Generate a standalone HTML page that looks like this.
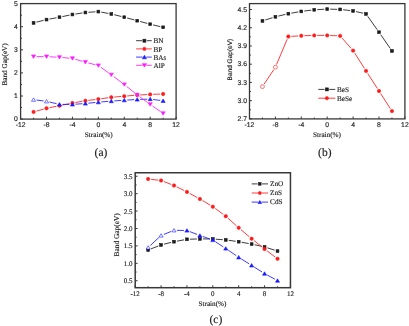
<!DOCTYPE html>
<html><head><meta charset="utf-8"><style>
html,body{margin:0;padding:0;background:#fff;}
svg{display:block;text-rendering:geometricPrecision;filter:blur(0.3px);}
text{stroke:#222;stroke-width:0.15px;stroke-linejoin:round;}
</style></head><body>
<svg width="409" height="326" viewBox="0 0 409 326">
<rect width="409" height="326" fill="#fff"/>
<rect x="20.6" y="3.6" width="155.5" height="115.5" fill="none" stroke="#383838" stroke-width="1.3"/>
<line x1="20.6" y1="119.1" x2="20.6" y2="116.7" stroke="#383838" stroke-width="1.0"/>
<line x1="46.52" y1="119.1" x2="46.52" y2="116.7" stroke="#383838" stroke-width="1.0"/>
<line x1="72.43" y1="119.1" x2="72.43" y2="116.7" stroke="#383838" stroke-width="1.0"/>
<line x1="98.35" y1="119.1" x2="98.35" y2="116.7" stroke="#383838" stroke-width="1.0"/>
<line x1="124.27" y1="119.1" x2="124.27" y2="116.7" stroke="#383838" stroke-width="1.0"/>
<line x1="150.18" y1="119.1" x2="150.18" y2="116.7" stroke="#383838" stroke-width="1.0"/>
<line x1="176.1" y1="119.1" x2="176.1" y2="116.7" stroke="#383838" stroke-width="1.0"/>
<line x1="33.56" y1="119.1" x2="33.56" y2="117.7" stroke="#383838" stroke-width="1.0"/>
<line x1="59.48" y1="119.1" x2="59.48" y2="117.7" stroke="#383838" stroke-width="1.0"/>
<line x1="85.39" y1="119.1" x2="85.39" y2="117.7" stroke="#383838" stroke-width="1.0"/>
<line x1="111.31" y1="119.1" x2="111.31" y2="117.7" stroke="#383838" stroke-width="1.0"/>
<line x1="137.22" y1="119.1" x2="137.22" y2="117.7" stroke="#383838" stroke-width="1.0"/>
<line x1="163.14" y1="119.1" x2="163.14" y2="117.7" stroke="#383838" stroke-width="1.0"/>
<line x1="20.6" y1="119.1" x2="23" y2="119.1" stroke="#383838" stroke-width="1.0"/>
<line x1="20.6" y1="96" x2="23" y2="96" stroke="#383838" stroke-width="1.0"/>
<line x1="20.6" y1="72.9" x2="23" y2="72.9" stroke="#383838" stroke-width="1.0"/>
<line x1="20.6" y1="49.8" x2="23" y2="49.8" stroke="#383838" stroke-width="1.0"/>
<line x1="20.6" y1="26.7" x2="23" y2="26.7" stroke="#383838" stroke-width="1.0"/>
<line x1="20.6" y1="3.6" x2="23" y2="3.6" stroke="#383838" stroke-width="1.0"/>
<line x1="20.6" y1="107.55" x2="22" y2="107.55" stroke="#383838" stroke-width="1.0"/>
<line x1="20.6" y1="84.45" x2="22" y2="84.45" stroke="#383838" stroke-width="1.0"/>
<line x1="20.6" y1="61.35" x2="22" y2="61.35" stroke="#383838" stroke-width="1.0"/>
<line x1="20.6" y1="38.25" x2="22" y2="38.25" stroke="#383838" stroke-width="1.0"/>
<line x1="20.6" y1="15.15" x2="22" y2="15.15" stroke="#383838" stroke-width="1.0"/>
<path d="M36.47 22.16L43.61 20.34M49.47 19.05L56.53 17.75M62.41 16.59L69.5 15.11M75.4 14.04L82.43 12.96M88.38 12.29L95.36 11.81M101.3 12.15L108.36 13.45M114.22 14.72L121.35 16.48M127.16 17.98L134.33 19.92M140.12 21.48L147.29 23.42M153.1 24.9L160.22 26.6" fill="none" stroke="#1a1a1a" stroke-width="0.85"/>
<path d="M36.45 111.1L43.63 109.1M49.46 107.71L56.53 106.29M62.41 105.09L69.5 103.61M75.39 102.5L82.43 101.3M88.37 100.41L95.38 99.49M101.32 98.69L108.34 97.71M114.3 97.05L121.28 96.45M127.26 95.95L134.24 95.35M140.22 94.94L147.19 94.56M153.18 94.31L160.14 94.09" fill="none" stroke="#ff1a1a" stroke-width="0.85"/>
<path d="M36.54 100.07L43.54 100.93M49.43 102L56.56 103.7M62.48 104.4L69.43 104.4M75.43 104.19L82.4 103.71M88.38 103.2L95.36 102.5M101.34 101.95L108.32 101.35M114.3 100.89L121.27 100.41M127.26 100.04L134.23 99.66M140.22 99.41L147.18 99.19M153.16 99.49L160.17 100.41" fill="none" stroke="#1a1aff" stroke-width="0.85"/>
<path d="M36.56 56.6L43.52 56.6M49.51 56.76L56.48 57.14M62.46 57.55L69.44 58.15M75.31 59.24L82.51 61.36M88.3 62.94L95.44 64.76M100.79 67.25L108.87 73.05M113.71 76.6L121.86 82.7M126.61 86.38L134.89 93.02M139.64 96.67L147.76 102.63M152.65 106.11L160.68 111.69" fill="none" stroke="#ff1aff" stroke-width="0.85"/>
<rect x="32.16" y="21.5" width="2.8" height="2.8" fill="#1a1a1a" stroke="#1a1a1a" stroke-width="0.6"/>
<rect x="45.12" y="18.2" width="2.8" height="2.8" fill="#1a1a1a" stroke="#1a1a1a" stroke-width="0.6"/>
<rect x="58.08" y="15.8" width="2.8" height="2.8" fill="#1a1a1a" stroke="#1a1a1a" stroke-width="0.6"/>
<rect x="71.03" y="13.1" width="2.8" height="2.8" fill="#1a1a1a" stroke="#1a1a1a" stroke-width="0.6"/>
<rect x="83.99" y="11.1" width="2.8" height="2.8" fill="#1a1a1a" stroke="#1a1a1a" stroke-width="0.6"/>
<rect x="96.95" y="10.2" width="2.8" height="2.8" fill="#1a1a1a" stroke="#1a1a1a" stroke-width="0.6"/>
<rect x="109.91" y="12.6" width="2.8" height="2.8" fill="#1a1a1a" stroke="#1a1a1a" stroke-width="0.6"/>
<rect x="122.87" y="15.8" width="2.8" height="2.8" fill="#1a1a1a" stroke="#1a1a1a" stroke-width="0.6"/>
<rect x="135.82" y="19.3" width="2.8" height="2.8" fill="#1a1a1a" stroke="#1a1a1a" stroke-width="0.6"/>
<rect x="148.78" y="22.8" width="2.8" height="2.8" fill="#1a1a1a" stroke="#1a1a1a" stroke-width="0.6"/>
<rect x="161.74" y="25.9" width="2.8" height="2.8" fill="#1a1a1a" stroke="#1a1a1a" stroke-width="0.6"/>
<circle cx="33.56" cy="111.9" r="1.7" fill="#ff1a1a" stroke="#ff1a1a" stroke-width="0.6"/>
<circle cx="46.52" cy="108.3" r="1.7" fill="#ff1a1a" stroke="#ff1a1a" stroke-width="0.6"/>
<circle cx="59.48" cy="105.7" r="1.7" fill="#ff1a1a" stroke="#ff1a1a" stroke-width="0.6"/>
<circle cx="72.43" cy="103" r="1.7" fill="#ff1a1a" stroke="#ff1a1a" stroke-width="0.6"/>
<circle cx="85.39" cy="100.8" r="1.7" fill="#ff1a1a" stroke="#ff1a1a" stroke-width="0.6"/>
<circle cx="98.35" cy="99.1" r="1.7" fill="#ff1a1a" stroke="#ff1a1a" stroke-width="0.6"/>
<circle cx="111.31" cy="97.3" r="1.7" fill="#ff1a1a" stroke="#ff1a1a" stroke-width="0.6"/>
<circle cx="124.27" cy="96.2" r="1.7" fill="#ff1a1a" stroke="#ff1a1a" stroke-width="0.6"/>
<circle cx="137.22" cy="95.1" r="1.7" fill="#ff1a1a" stroke="#ff1a1a" stroke-width="0.6"/>
<circle cx="150.18" cy="94.4" r="1.7" fill="#ff1a1a" stroke="#ff1a1a" stroke-width="0.6"/>
<circle cx="163.14" cy="94" r="1.7" fill="#ff1a1a" stroke="#ff1a1a" stroke-width="0.6"/>
<polygon points="33.56,97.92 31.52,101.31 35.6,101.31" fill="#fff" stroke="#1a1aff" stroke-width="0.6"/>
<polygon points="46.52,99.52 44.48,102.91 48.56,102.91" fill="#fff" stroke="#1a1aff" stroke-width="0.6"/>
<polygon points="59.48,102.62 57.44,106.02 61.52,106.02" fill="#1a1aff" stroke="#1a1aff" stroke-width="0.6"/>
<polygon points="72.43,102.62 70.39,106.02 74.47,106.02" fill="#1a1aff" stroke="#1a1aff" stroke-width="0.6"/>
<polygon points="85.39,101.72 83.35,105.11 87.43,105.11" fill="#1a1aff" stroke="#1a1aff" stroke-width="0.6"/>
<polygon points="98.35,100.42 96.31,103.81 100.39,103.81" fill="#1a1aff" stroke="#1a1aff" stroke-width="0.6"/>
<polygon points="111.31,99.31 109.27,102.71 113.35,102.71" fill="#1a1aff" stroke="#1a1aff" stroke-width="0.6"/>
<polygon points="124.27,98.42 122.23,101.81 126.31,101.81" fill="#1a1aff" stroke="#1a1aff" stroke-width="0.6"/>
<polygon points="137.22,97.72 135.19,101.11 139.26,101.11" fill="#1a1aff" stroke="#1a1aff" stroke-width="0.6"/>
<polygon points="150.18,97.31 148.14,100.71 152.22,100.71" fill="#1a1aff" stroke="#1a1aff" stroke-width="0.6"/>
<polygon points="163.14,99.02 161.1,102.41 165.18,102.41" fill="#1a1aff" stroke="#1a1aff" stroke-width="0.6"/>
<polygon points="33.56,58.38 31.52,54.98 35.6,54.98" fill="#ff1aff" stroke="#ff1aff" stroke-width="0.6"/>
<polygon points="46.52,58.38 44.48,54.98 48.56,54.98" fill="#ff1aff" stroke="#ff1aff" stroke-width="0.6"/>
<polygon points="59.48,59.08 57.44,55.68 61.52,55.68" fill="#ff1aff" stroke="#ff1aff" stroke-width="0.6"/>
<polygon points="72.43,60.18 70.39,56.78 74.47,56.78" fill="#ff1aff" stroke="#ff1aff" stroke-width="0.6"/>
<polygon points="85.39,63.98 83.35,60.59 87.43,60.59" fill="#ff1aff" stroke="#ff1aff" stroke-width="0.6"/>
<polygon points="98.35,67.28 96.31,63.88 100.39,63.88" fill="#ff1aff" stroke="#ff1aff" stroke-width="0.6"/>
<polygon points="111.31,76.58 109.27,73.19 113.35,73.19" fill="#ff1aff" stroke="#ff1aff" stroke-width="0.6"/>
<polygon points="124.27,86.28 122.23,82.89 126.31,82.89" fill="#ff1aff" stroke="#ff1aff" stroke-width="0.6"/>
<polygon points="137.22,96.69 135.19,93.29 139.26,93.29" fill="#ff1aff" stroke="#ff1aff" stroke-width="0.6"/>
<polygon points="150.18,106.19 148.14,102.79 152.22,102.79" fill="#ff1aff" stroke="#ff1aff" stroke-width="0.6"/>
<polygon points="163.14,115.19 161.1,111.79 165.18,111.79" fill="#ff1aff" stroke="#ff1aff" stroke-width="0.6"/>
<path d="M136.1 40.7H142M146.8 40.7H151.8" fill="none" stroke="#1a1a1a" stroke-width="0.85"/>
<rect x="142.9" y="39.2" width="3" height="3" fill="#1a1a1a" stroke="#1a1a1a" stroke-width="0.6"/>
<text x="153.5" y="43.4" font-size="7.2" font-family='"Liberation Serif", serif' text-anchor="start" fill="#222" font-weight="normal">BN</text>
<path d="M136.1 48.9H142.55M146.25 48.9H151.8" fill="none" stroke="#ff1a1a" stroke-width="0.85"/>
<circle cx="144.4" cy="48.9" r="1.65" fill="#ff1a1a" stroke="#ff1a1a" stroke-width="0.6"/>
<text x="153.5" y="51.6" font-size="7.2" font-family='"Liberation Serif", serif' text-anchor="start" fill="#222" font-weight="normal">BP</text>
<path d="M136.1 57.1H142.45M146.35 57.1H151.8" fill="none" stroke="#1a1aff" stroke-width="0.85"/>
<polygon points="144.4,55.26 142.3,58.76 146.5,58.76" fill="#1a1aff" stroke="#1a1aff" stroke-width="0.6"/>
<text x="153.5" y="59.8" font-size="7.2" font-family='"Liberation Serif", serif' text-anchor="start" fill="#222" font-weight="normal">BAs</text>
<path d="M136.1 65.3H142.45M146.35 65.3H151.8" fill="none" stroke="#ff1aff" stroke-width="0.85"/>
<polygon points="144.4,67.14 142.3,63.64 146.5,63.64" fill="#ff1aff" stroke="#ff1aff" stroke-width="0.6"/>
<text x="153.5" y="68" font-size="7.2" font-family='"Liberation Serif", serif' text-anchor="start" fill="#222" font-weight="normal">AlP</text>
<text x="17.9" y="121" font-size="6.8" font-family='"Liberation Sans", sans-serif' text-anchor="end" fill="#222" font-weight="normal">0</text>
<text x="17.9" y="97.9" font-size="6.8" font-family='"Liberation Sans", sans-serif' text-anchor="end" fill="#222" font-weight="normal">1</text>
<text x="17.9" y="74.8" font-size="6.8" font-family='"Liberation Sans", sans-serif' text-anchor="end" fill="#222" font-weight="normal">2</text>
<text x="17.9" y="51.7" font-size="6.8" font-family='"Liberation Sans", sans-serif' text-anchor="end" fill="#222" font-weight="normal">3</text>
<text x="17.9" y="28.6" font-size="6.8" font-family='"Liberation Sans", sans-serif' text-anchor="end" fill="#222" font-weight="normal">4</text>
<text x="17.9" y="5.5" font-size="6.8" font-family='"Liberation Sans", sans-serif' text-anchor="end" fill="#222" font-weight="normal">5</text>
<text x="20.6" y="127" font-size="6.8" font-family='"Liberation Sans", sans-serif' text-anchor="middle" fill="#222" font-weight="normal">-12</text>
<text x="46.52" y="127" font-size="6.8" font-family='"Liberation Sans", sans-serif' text-anchor="middle" fill="#222" font-weight="normal">-8</text>
<text x="72.43" y="127" font-size="6.8" font-family='"Liberation Sans", sans-serif' text-anchor="middle" fill="#222" font-weight="normal">-4</text>
<text x="98.35" y="127" font-size="6.8" font-family='"Liberation Sans", sans-serif' text-anchor="middle" fill="#222" font-weight="normal">0</text>
<text x="124.27" y="127" font-size="6.8" font-family='"Liberation Sans", sans-serif' text-anchor="middle" fill="#222" font-weight="normal">4</text>
<text x="150.18" y="127" font-size="6.8" font-family='"Liberation Sans", sans-serif' text-anchor="middle" fill="#222" font-weight="normal">8</text>
<text x="176.1" y="127" font-size="6.8" font-family='"Liberation Sans", sans-serif' text-anchor="middle" fill="#222" font-weight="normal">12</text>
<text x="98.8" y="137" font-size="7.2" font-family='"Liberation Serif", serif' text-anchor="middle" fill="#222" font-weight="normal">Strain(%)</text>
<text x="6.9" y="64.4" font-size="7.2" font-family='"Liberation Serif", serif' text-anchor="middle" fill="#222" font-weight="normal" transform="rotate(-90 6.9 64.4)">Band Gap(eV)</text>
<text x="101" y="155.6" font-size="11.5" font-family='"Liberation Serif", serif' text-anchor="middle" fill="#222" font-weight="normal">(a)</text>
<rect x="249.5" y="3.6" width="155.4" height="115.3" fill="none" stroke="#383838" stroke-width="1.3"/>
<line x1="249.5" y1="118.9" x2="249.5" y2="116.5" stroke="#383838" stroke-width="1.0"/>
<line x1="275.4" y1="118.9" x2="275.4" y2="116.5" stroke="#383838" stroke-width="1.0"/>
<line x1="301.3" y1="118.9" x2="301.3" y2="116.5" stroke="#383838" stroke-width="1.0"/>
<line x1="327.2" y1="118.9" x2="327.2" y2="116.5" stroke="#383838" stroke-width="1.0"/>
<line x1="353.1" y1="118.9" x2="353.1" y2="116.5" stroke="#383838" stroke-width="1.0"/>
<line x1="379" y1="118.9" x2="379" y2="116.5" stroke="#383838" stroke-width="1.0"/>
<line x1="404.9" y1="118.9" x2="404.9" y2="116.5" stroke="#383838" stroke-width="1.0"/>
<line x1="262.45" y1="118.9" x2="262.45" y2="117.5" stroke="#383838" stroke-width="1.0"/>
<line x1="288.35" y1="118.9" x2="288.35" y2="117.5" stroke="#383838" stroke-width="1.0"/>
<line x1="314.25" y1="118.9" x2="314.25" y2="117.5" stroke="#383838" stroke-width="1.0"/>
<line x1="340.15" y1="118.9" x2="340.15" y2="117.5" stroke="#383838" stroke-width="1.0"/>
<line x1="366.05" y1="118.9" x2="366.05" y2="117.5" stroke="#383838" stroke-width="1.0"/>
<line x1="391.95" y1="118.9" x2="391.95" y2="117.5" stroke="#383838" stroke-width="1.0"/>
<line x1="249.5" y1="118.9" x2="251.9" y2="118.9" stroke="#383838" stroke-width="1.0"/>
<line x1="249.5" y1="100.67" x2="251.9" y2="100.67" stroke="#383838" stroke-width="1.0"/>
<line x1="249.5" y1="82.43" x2="251.9" y2="82.43" stroke="#383838" stroke-width="1.0"/>
<line x1="249.5" y1="64.2" x2="251.9" y2="64.2" stroke="#383838" stroke-width="1.0"/>
<line x1="249.5" y1="45.96" x2="251.9" y2="45.96" stroke="#383838" stroke-width="1.0"/>
<line x1="249.5" y1="27.73" x2="251.9" y2="27.73" stroke="#383838" stroke-width="1.0"/>
<line x1="249.5" y1="9.5" x2="251.9" y2="9.5" stroke="#383838" stroke-width="1.0"/>
<line x1="249.5" y1="109.78" x2="250.9" y2="109.78" stroke="#383838" stroke-width="1.0"/>
<line x1="249.5" y1="91.55" x2="250.9" y2="91.55" stroke="#383838" stroke-width="1.0"/>
<line x1="249.5" y1="73.31" x2="250.9" y2="73.31" stroke="#383838" stroke-width="1.0"/>
<line x1="249.5" y1="55.08" x2="250.9" y2="55.08" stroke="#383838" stroke-width="1.0"/>
<line x1="249.5" y1="36.85" x2="250.9" y2="36.85" stroke="#383838" stroke-width="1.0"/>
<line x1="249.5" y1="18.61" x2="250.9" y2="18.61" stroke="#383838" stroke-width="1.0"/>
<path d="M265.31 19.99L272.54 17.71M278.32 16.1L285.43 14.4M291.3 13.18L298.35 11.92M304.28 11.03L311.27 10.17M317.25 9.64L324.2 9.26M330.2 9.17L337.15 9.33M343.13 9.75L350.12 10.55M356.02 11.58L363.13 13.22M367.78 16.35L377.27 29.75M380.71 34.67L390.24 48.43" fill="none" stroke="#1a1a1a" stroke-width="0.85"/>
<path d="M264.12 84.1L273.73 69.7M276.57 64.44L287.18 39.26M291.35 36.34L298.3 35.96M304.3 35.71L311.25 35.49M317.25 35.4L324.2 35.4M330.2 35.52L337.15 35.78M342.13 38.15L351.12 48.35M354.71 53.13L364.44 68.37M367.67 73.42L377.38 88.48M380.62 93.52L390.33 108.58" fill="none" stroke="#ff1a1a" stroke-width="0.85"/>
<rect x="261.05" y="19.5" width="2.8" height="2.8" fill="#1a1a1a" stroke="#1a1a1a" stroke-width="0.6"/>
<rect x="274" y="15.4" width="2.8" height="2.8" fill="#1a1a1a" stroke="#1a1a1a" stroke-width="0.6"/>
<rect x="286.95" y="12.3" width="2.8" height="2.8" fill="#1a1a1a" stroke="#1a1a1a" stroke-width="0.6"/>
<rect x="299.9" y="10" width="2.8" height="2.8" fill="#1a1a1a" stroke="#1a1a1a" stroke-width="0.6"/>
<rect x="312.85" y="8.4" width="2.8" height="2.8" fill="#1a1a1a" stroke="#1a1a1a" stroke-width="0.6"/>
<rect x="325.8" y="7.7" width="2.8" height="2.8" fill="#1a1a1a" stroke="#1a1a1a" stroke-width="0.6"/>
<rect x="338.75" y="8" width="2.8" height="2.8" fill="#1a1a1a" stroke="#1a1a1a" stroke-width="0.6"/>
<rect x="351.7" y="9.5" width="2.8" height="2.8" fill="#1a1a1a" stroke="#1a1a1a" stroke-width="0.6"/>
<rect x="364.65" y="12.5" width="2.8" height="2.8" fill="#1a1a1a" stroke="#1a1a1a" stroke-width="0.6"/>
<rect x="377.6" y="30.8" width="2.8" height="2.8" fill="#1a1a1a" stroke="#1a1a1a" stroke-width="0.6"/>
<rect x="390.55" y="49.5" width="2.8" height="2.8" fill="#1a1a1a" stroke="#1a1a1a" stroke-width="0.6"/>
<circle cx="262.45" cy="86.6" r="1.95" fill="#fff" stroke="#ff1a1a" stroke-width="0.6"/>
<circle cx="275.4" cy="67.2" r="1.95" fill="#fff" stroke="#ff1a1a" stroke-width="0.6"/>
<circle cx="288.35" cy="36.5" r="1.7" fill="#ff1a1a" stroke="#ff1a1a" stroke-width="0.6"/>
<circle cx="301.3" cy="35.8" r="1.7" fill="#ff1a1a" stroke="#ff1a1a" stroke-width="0.6"/>
<circle cx="314.25" cy="35.4" r="1.7" fill="#ff1a1a" stroke="#ff1a1a" stroke-width="0.6"/>
<circle cx="327.2" cy="35.4" r="1.7" fill="#ff1a1a" stroke="#ff1a1a" stroke-width="0.6"/>
<circle cx="340.15" cy="35.9" r="1.7" fill="#ff1a1a" stroke="#ff1a1a" stroke-width="0.6"/>
<circle cx="353.1" cy="50.6" r="1.7" fill="#ff1a1a" stroke="#ff1a1a" stroke-width="0.6"/>
<circle cx="366.05" cy="70.9" r="1.7" fill="#ff1a1a" stroke="#ff1a1a" stroke-width="0.6"/>
<circle cx="379" cy="91" r="1.7" fill="#ff1a1a" stroke="#ff1a1a" stroke-width="0.6"/>
<circle cx="391.95" cy="111.1" r="1.7" fill="#ff1a1a" stroke="#ff1a1a" stroke-width="0.6"/>
<path d="M318.3 89.4H324.5M329.3 89.4H335.3" fill="none" stroke="#1a1a1a" stroke-width="0.85"/>
<rect x="325.4" y="87.9" width="3" height="3" fill="#1a1a1a" stroke="#1a1a1a" stroke-width="0.6"/>
<text x="337" y="91.5" font-size="7.2" font-family='"Liberation Serif", serif' text-anchor="start" fill="#222" font-weight="normal">BeS</text>
<path d="M318.3 98.2H325.05M328.75 98.2H335.3" fill="none" stroke="#ff1a1a" stroke-width="0.85"/>
<circle cx="326.9" cy="98.2" r="1.65" fill="#ff1a1a" stroke="#ff1a1a" stroke-width="0.6"/>
<text x="337" y="100.9" font-size="7.2" font-family='"Liberation Serif", serif' text-anchor="start" fill="#222" font-weight="normal">BeSe</text>
<text x="247" y="121.1" font-size="6.8" font-family='"Liberation Sans", sans-serif' text-anchor="end" fill="#222" font-weight="normal">2.7</text>
<text x="247" y="102.87" font-size="6.8" font-family='"Liberation Sans", sans-serif' text-anchor="end" fill="#222" font-weight="normal">3.0</text>
<text x="247" y="84.63" font-size="6.8" font-family='"Liberation Sans", sans-serif' text-anchor="end" fill="#222" font-weight="normal">3.3</text>
<text x="247" y="66.4" font-size="6.8" font-family='"Liberation Sans", sans-serif' text-anchor="end" fill="#222" font-weight="normal">3.6</text>
<text x="247" y="48.16" font-size="6.8" font-family='"Liberation Sans", sans-serif' text-anchor="end" fill="#222" font-weight="normal">3.9</text>
<text x="247" y="29.93" font-size="6.8" font-family='"Liberation Sans", sans-serif' text-anchor="end" fill="#222" font-weight="normal">4.2</text>
<text x="247" y="11.7" font-size="6.8" font-family='"Liberation Sans", sans-serif' text-anchor="end" fill="#222" font-weight="normal">4.5</text>
<text x="249.5" y="127" font-size="6.8" font-family='"Liberation Sans", sans-serif' text-anchor="middle" fill="#222" font-weight="normal">-12</text>
<text x="275.4" y="127" font-size="6.8" font-family='"Liberation Sans", sans-serif' text-anchor="middle" fill="#222" font-weight="normal">-8</text>
<text x="301.3" y="127" font-size="6.8" font-family='"Liberation Sans", sans-serif' text-anchor="middle" fill="#222" font-weight="normal">-4</text>
<text x="327.2" y="127" font-size="6.8" font-family='"Liberation Sans", sans-serif' text-anchor="middle" fill="#222" font-weight="normal">0</text>
<text x="353.1" y="127" font-size="6.8" font-family='"Liberation Sans", sans-serif' text-anchor="middle" fill="#222" font-weight="normal">4</text>
<text x="379" y="127" font-size="6.8" font-family='"Liberation Sans", sans-serif' text-anchor="middle" fill="#222" font-weight="normal">8</text>
<text x="404.9" y="127" font-size="6.8" font-family='"Liberation Sans", sans-serif' text-anchor="middle" fill="#222" font-weight="normal">12</text>
<text x="327" y="137.3" font-size="7.2" font-family='"Liberation Serif", serif' text-anchor="middle" fill="#222" font-weight="normal">Strain(%)</text>
<text x="232" y="59.6" font-size="6.5" font-family='"Liberation Sans", sans-serif' text-anchor="middle" fill="#222" font-weight="normal" transform="rotate(-90 232 59.6)">Band Gap(eV)</text>
<text x="324.8" y="155.8" font-size="11.5" font-family='"Liberation Serif", serif' text-anchor="middle" fill="#222" font-weight="normal">(b)</text>
<rect x="135.2" y="172.75" width="155.25" height="114.95" fill="none" stroke="#383838" stroke-width="1.5"/>
<line x1="135.2" y1="287.7" x2="135.2" y2="285.3" stroke="#383838" stroke-width="1.0"/>
<line x1="161.07" y1="287.7" x2="161.07" y2="285.3" stroke="#383838" stroke-width="1.0"/>
<line x1="186.95" y1="287.7" x2="186.95" y2="285.3" stroke="#383838" stroke-width="1.0"/>
<line x1="212.82" y1="287.7" x2="212.82" y2="285.3" stroke="#383838" stroke-width="1.0"/>
<line x1="238.7" y1="287.7" x2="238.7" y2="285.3" stroke="#383838" stroke-width="1.0"/>
<line x1="264.57" y1="287.7" x2="264.57" y2="285.3" stroke="#383838" stroke-width="1.0"/>
<line x1="290.45" y1="287.7" x2="290.45" y2="285.3" stroke="#383838" stroke-width="1.0"/>
<line x1="148.14" y1="287.7" x2="148.14" y2="286.3" stroke="#383838" stroke-width="1.0"/>
<line x1="174.01" y1="287.7" x2="174.01" y2="286.3" stroke="#383838" stroke-width="1.0"/>
<line x1="199.89" y1="287.7" x2="199.89" y2="286.3" stroke="#383838" stroke-width="1.0"/>
<line x1="225.76" y1="287.7" x2="225.76" y2="286.3" stroke="#383838" stroke-width="1.0"/>
<line x1="251.64" y1="287.7" x2="251.64" y2="286.3" stroke="#383838" stroke-width="1.0"/>
<line x1="277.51" y1="287.7" x2="277.51" y2="286.3" stroke="#383838" stroke-width="1.0"/>
<line x1="135.2" y1="280.73" x2="137.6" y2="280.73" stroke="#383838" stroke-width="1.0"/>
<line x1="135.2" y1="263.32" x2="137.6" y2="263.32" stroke="#383838" stroke-width="1.0"/>
<line x1="135.2" y1="245.9" x2="137.6" y2="245.9" stroke="#383838" stroke-width="1.0"/>
<line x1="135.2" y1="228.49" x2="137.6" y2="228.49" stroke="#383838" stroke-width="1.0"/>
<line x1="135.2" y1="211.07" x2="137.6" y2="211.07" stroke="#383838" stroke-width="1.0"/>
<line x1="135.2" y1="193.66" x2="137.6" y2="193.66" stroke="#383838" stroke-width="1.0"/>
<line x1="135.2" y1="176.24" x2="137.6" y2="176.24" stroke="#383838" stroke-width="1.0"/>
<line x1="135.2" y1="272.03" x2="136.6" y2="272.03" stroke="#383838" stroke-width="1.0"/>
<line x1="135.2" y1="254.61" x2="136.6" y2="254.61" stroke="#383838" stroke-width="1.0"/>
<line x1="135.2" y1="237.2" x2="136.6" y2="237.2" stroke="#383838" stroke-width="1.0"/>
<line x1="135.2" y1="219.78" x2="136.6" y2="219.78" stroke="#383838" stroke-width="1.0"/>
<line x1="135.2" y1="202.37" x2="136.6" y2="202.37" stroke="#383838" stroke-width="1.0"/>
<line x1="135.2" y1="184.95" x2="136.6" y2="184.95" stroke="#383838" stroke-width="1.0"/>
<path d="M150.93 248.9L158.28 246M163.99 244.18L171.1 242.42M176.96 241.15L184 239.85M189.95 239.21L196.89 238.99M202.89 238.92L209.83 238.98M215.82 239.21L222.77 239.69M228.73 240.31L235.73 241.29M241.65 242.25L248.69 243.55M254.57 244.73L261.64 246.27M267.43 247.83L274.66 250.17" fill="none" stroke="#1a1a1a" stroke-width="0.85"/>
<path d="M151.12 179.35L158.09 180.15M163.87 181.58L171.21 184.42M176.7 186.83L184.26 190.57M189.58 193.34L197.26 197.56M202.47 200.53L210.25 205.17M215.24 208.48L223.34 214.42M228 218.2L236.47 225.8M240.99 229.73L249.34 236.77M253.98 240.57L262.23 247.13M266.97 250.81L275.12 256.99" fill="none" stroke="#ff1a1a" stroke-width="0.85"/>
<path d="M150.34 245.46L158.88 237.54M163.86 234.38L171.23 231.42M177.01 230.35L183.95 230.45M189.75 231.58L197.09 234.42M202.72 236.49L209.99 239.01M215.33 241.65L223.26 246.85M228.24 250.19L236.22 255.61M241.24 258.89L249.09 263.81M254.17 267.01L262.04 271.99M267.21 275.03L274.87 279.17" fill="none" stroke="#1a1aff" stroke-width="0.85"/>
<rect x="146.74" y="248.6" width="2.8" height="2.8" fill="#1a1a1a" stroke="#1a1a1a" stroke-width="0.6"/>
<rect x="159.67" y="243.5" width="2.8" height="2.8" fill="#1a1a1a" stroke="#1a1a1a" stroke-width="0.6"/>
<rect x="172.61" y="240.3" width="2.8" height="2.8" fill="#1a1a1a" stroke="#1a1a1a" stroke-width="0.6"/>
<rect x="185.55" y="237.9" width="2.8" height="2.8" fill="#1a1a1a" stroke="#1a1a1a" stroke-width="0.6"/>
<rect x="198.49" y="237.5" width="2.8" height="2.8" fill="#1a1a1a" stroke="#1a1a1a" stroke-width="0.6"/>
<rect x="211.42" y="237.6" width="2.8" height="2.8" fill="#1a1a1a" stroke="#1a1a1a" stroke-width="0.6"/>
<rect x="224.36" y="238.5" width="2.8" height="2.8" fill="#1a1a1a" stroke="#1a1a1a" stroke-width="0.6"/>
<rect x="237.3" y="240.3" width="2.8" height="2.8" fill="#1a1a1a" stroke="#1a1a1a" stroke-width="0.6"/>
<rect x="250.24" y="242.7" width="2.8" height="2.8" fill="#1a1a1a" stroke="#1a1a1a" stroke-width="0.6"/>
<rect x="263.18" y="245.5" width="2.8" height="2.8" fill="#1a1a1a" stroke="#1a1a1a" stroke-width="0.6"/>
<rect x="276.11" y="249.7" width="2.8" height="2.8" fill="#1a1a1a" stroke="#1a1a1a" stroke-width="0.6"/>
<circle cx="148.14" cy="179" r="1.7" fill="#ff1a1a" stroke="#ff1a1a" stroke-width="0.6"/>
<circle cx="161.07" cy="180.5" r="1.7" fill="#ff1a1a" stroke="#ff1a1a" stroke-width="0.6"/>
<circle cx="174.01" cy="185.5" r="1.7" fill="#ff1a1a" stroke="#ff1a1a" stroke-width="0.6"/>
<circle cx="186.95" cy="191.9" r="1.7" fill="#ff1a1a" stroke="#ff1a1a" stroke-width="0.6"/>
<circle cx="199.89" cy="199" r="1.7" fill="#ff1a1a" stroke="#ff1a1a" stroke-width="0.6"/>
<circle cx="212.82" cy="206.7" r="1.7" fill="#ff1a1a" stroke="#ff1a1a" stroke-width="0.6"/>
<circle cx="225.76" cy="216.2" r="1.7" fill="#ff1a1a" stroke="#ff1a1a" stroke-width="0.6"/>
<circle cx="238.7" cy="227.8" r="1.7" fill="#ff1a1a" stroke="#ff1a1a" stroke-width="0.6"/>
<circle cx="251.64" cy="238.7" r="1.7" fill="#ff1a1a" stroke="#ff1a1a" stroke-width="0.6"/>
<circle cx="264.57" cy="249" r="1.7" fill="#ff1a1a" stroke="#ff1a1a" stroke-width="0.6"/>
<circle cx="277.51" cy="258.8" r="1.7" fill="#ff1a1a" stroke="#ff1a1a" stroke-width="0.6"/>
<polygon points="148.14,245.72 146.1,249.12 150.18,249.12" fill="#fff" stroke="#1a1aff" stroke-width="0.6"/>
<polygon points="161.07,233.72 159.03,237.12 163.11,237.12" fill="#fff" stroke="#1a1aff" stroke-width="0.6"/>
<polygon points="174.01,228.52 171.97,231.92 176.05,231.92" fill="#fff" stroke="#1a1aff" stroke-width="0.6"/>
<polygon points="186.95,228.72 184.91,232.12 188.99,232.12" fill="#1a1aff" stroke="#1a1aff" stroke-width="0.6"/>
<polygon points="199.89,233.72 197.85,237.12 201.93,237.12" fill="#1a1aff" stroke="#1a1aff" stroke-width="0.6"/>
<polygon points="212.82,238.22 210.78,241.62 214.86,241.62" fill="#1a1aff" stroke="#1a1aff" stroke-width="0.6"/>
<polygon points="225.76,246.72 223.72,250.12 227.8,250.12" fill="#1a1aff" stroke="#1a1aff" stroke-width="0.6"/>
<polygon points="238.7,255.52 236.66,258.92 240.74,258.92" fill="#1a1aff" stroke="#1a1aff" stroke-width="0.6"/>
<polygon points="251.64,263.61 249.6,267.01 253.68,267.01" fill="#1a1aff" stroke="#1a1aff" stroke-width="0.6"/>
<polygon points="264.57,271.81 262.53,275.22 266.62,275.22" fill="#1a1aff" stroke="#1a1aff" stroke-width="0.6"/>
<polygon points="277.51,278.81 275.47,282.22 279.55,282.22" fill="#1a1aff" stroke="#1a1aff" stroke-width="0.6"/>
<path d="M251.7 183.9H257.6M262 183.9H268" fill="none" stroke="#1a1a1a" stroke-width="0.85"/>
<rect x="258.5" y="182.6" width="2.6" height="2.6" fill="#1a1a1a" stroke="#1a1a1a" stroke-width="0.6"/>
<text x="270.1" y="186.2" font-size="7.2" font-family='"Liberation Serif", serif' text-anchor="start" fill="#222" font-weight="normal">ZnO</text>
<path d="M251.7 193H258.05M261.55 193H268" fill="none" stroke="#ff1a1a" stroke-width="0.85"/>
<circle cx="259.8" cy="193" r="1.55" fill="#ff1a1a" stroke="#ff1a1a" stroke-width="0.6"/>
<text x="270.1" y="195.3" font-size="7.2" font-family='"Liberation Serif", serif' text-anchor="start" fill="#222" font-weight="normal">ZnS</text>
<path d="M251.7 202.1H258.1M261.5 202.1H268" fill="none" stroke="#1a1aff" stroke-width="0.85"/>
<polygon points="259.8,200.53 258,203.53 261.6,203.53" fill="#1a1aff" stroke="#1a1aff" stroke-width="0.6"/>
<text x="270.1" y="204.4" font-size="7.2" font-family='"Liberation Serif", serif' text-anchor="start" fill="#222" font-weight="normal">CdS</text>
<text x="132.6" y="283.23" font-size="7" font-family='"Liberation Serif", serif' text-anchor="end" fill="#222" font-weight="normal">0.5</text>
<text x="132.6" y="265.82" font-size="7" font-family='"Liberation Serif", serif' text-anchor="end" fill="#222" font-weight="normal">1.0</text>
<text x="132.6" y="248.4" font-size="7" font-family='"Liberation Serif", serif' text-anchor="end" fill="#222" font-weight="normal">1.5</text>
<text x="132.6" y="230.99" font-size="7" font-family='"Liberation Serif", serif' text-anchor="end" fill="#222" font-weight="normal">2.0</text>
<text x="132.6" y="213.57" font-size="7" font-family='"Liberation Serif", serif' text-anchor="end" fill="#222" font-weight="normal">2.5</text>
<text x="132.6" y="196.16" font-size="7" font-family='"Liberation Serif", serif' text-anchor="end" fill="#222" font-weight="normal">3.0</text>
<text x="132.6" y="178.74" font-size="7" font-family='"Liberation Serif", serif' text-anchor="end" fill="#222" font-weight="normal">3.5</text>
<text x="135.2" y="296.2" font-size="7" font-family='"Liberation Serif", serif' text-anchor="middle" fill="#222" font-weight="normal">-12</text>
<text x="161.07" y="296.2" font-size="7" font-family='"Liberation Serif", serif' text-anchor="middle" fill="#222" font-weight="normal">-8</text>
<text x="186.95" y="296.2" font-size="7" font-family='"Liberation Serif", serif' text-anchor="middle" fill="#222" font-weight="normal">-4</text>
<text x="212.82" y="296.2" font-size="7" font-family='"Liberation Serif", serif' text-anchor="middle" fill="#222" font-weight="normal">0</text>
<text x="238.7" y="296.2" font-size="7" font-family='"Liberation Serif", serif' text-anchor="middle" fill="#222" font-weight="normal">4</text>
<text x="264.57" y="296.2" font-size="7" font-family='"Liberation Serif", serif' text-anchor="middle" fill="#222" font-weight="normal">8</text>
<text x="290.45" y="296.2" font-size="7" font-family='"Liberation Serif", serif' text-anchor="middle" fill="#222" font-weight="normal">12</text>
<text x="212.5" y="306" font-size="7.2" font-family='"Liberation Serif", serif' text-anchor="middle" fill="#222" font-weight="normal">Strain(%)</text>
<text x="119.4" y="234.8" font-size="7.4" font-family='"Liberation Serif", serif' text-anchor="middle" fill="#222" font-weight="normal" transform="rotate(-90 119.4 234.8)">Band Gap(eV)</text>
<text x="215.9" y="322.8" font-size="11.5" font-family='"Liberation Serif", serif' text-anchor="middle" fill="#222" font-weight="normal">(c)</text>
</svg>
</body></html>
